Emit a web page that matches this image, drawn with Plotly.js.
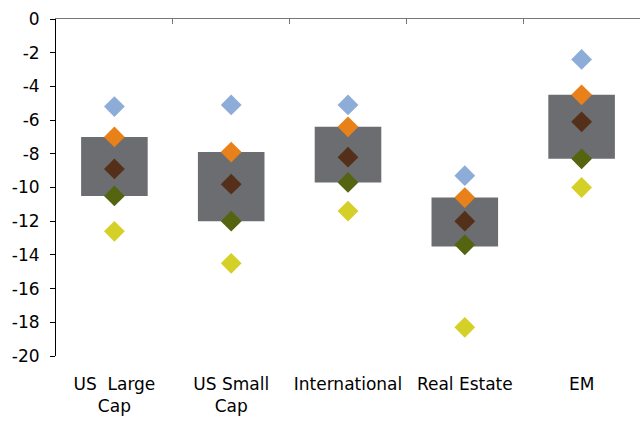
<!DOCTYPE html>
<html>
<head>
<meta charset="utf-8">
<script src="https://cdn.plot.ly/plotly-3.0.1.min.js"></script>
<style>html,body{margin:0;padding:0;background:#fff}#chart{width:640px;height:423px}</style>
</head>
<body>
<div id="chart"></div>
<script>
const categories = ["US  Large<br>Cap", "US Small<br>Cap", "International", "Real Estate", "EM"];
const boxTop    = [-7.0, -7.9, -6.4, -10.6, -4.5];
const boxBottom = [-10.5, -12.0, -9.7, -13.5, -8.3];
const seriesBlue   = [-5.2, -5.1, -5.1, -9.3, -2.4];
const seriesOrange = [-7.0, -7.9, -6.4, -10.6, -4.5];
const seriesBrown  = [-8.9, -9.8, -8.2, -12.0, -6.1];
const seriesGreen  = [-10.5, -12.0, -9.7, -13.4, -8.3];
const seriesYellow = [-12.6, -14.5, -11.4, -18.3, -10.0];
const yTicks = [0, -2, -4, -6, -8, -10, -12, -14, -16, -18, -20];

const xIdx = categories.map((c, i) => i);
const traces = [{
  type: 'bar', x: xIdx, y: boxTop.map((t, i) => t - boxBottom[i]), base: boxBottom,
  width: 0.57, marker: {color: '#6C6D70'}, hoverinfo: 'skip'
}];
const series = [
  [seriesBlue, '#8DADD8'], [seriesOrange, '#E8811A'], [seriesBrown, '#54301B'],
  [seriesGreen, '#546410'], [seriesYellow, '#D5D027']
];
series.forEach(([vals, col]) => traces.push({
  type: 'scatter', mode: 'markers', x: xIdx, y: vals,
  marker: {symbol: 'diamond', size: 16, color: col}
}));
// top axis line with boundary ticks
traces.push({type: 'scatter', x: [0], y: [0], xaxis: 'x2', mode: 'markers', marker: {opacity: 0}, hoverinfo: 'skip'});

const layout = {
  width: 640, height: 423,
  margin: {l: 56, r: 0, t: 19, b: 67},
  paper_bgcolor: '#fff', plot_bgcolor: '#fff',
  showlegend: false,
  font: {family: 'DejaVu Sans, sans-serif', size: 17, color: '#000'},
  xaxis: {
    range: [-0.5, 4.5], tickmode: 'array', tickvals: xIdx, ticktext: categories,
    showline: false, showgrid: false, zeroline: false, ticks: '',
    ticklabelstandoff: 16, fixedrange: true
  },
  xaxis2: {
    overlaying: 'x', anchor: 'y', side: 'top', range: [-0.5, 4.5],
    tickmode: 'array', tickvals: [0.5, 1.5, 2.5, 3.5], showticklabels: false,
    ticks: 'inside', ticklen: 5, tickcolor: '#777', showline: true, linecolor: '#777', linewidth: 1,
    showgrid: false, zeroline: false
  },
  yaxis: {
    range: [-20, 0], tickmode: 'array', tickvals: yTicks, ticktext: yTicks.map(String),
    showline: true, linecolor: '#000', linewidth: 1, ticks: 'outside', ticklen: 5, tickcolor: '#000',
    showgrid: false, zeroline: false, ticklabelstandoff: 7
  }
};
Plotly.newPlot('chart', traces, layout, {displayModeBar: false, staticPlot: true});
</script>
</body>
</html>
